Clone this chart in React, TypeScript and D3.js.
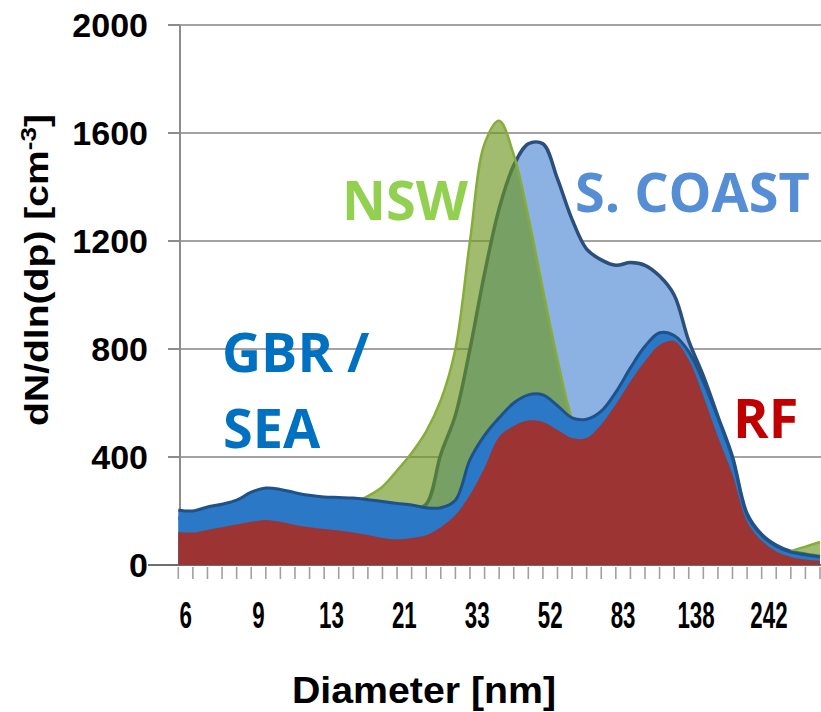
import * as d3 from "d3";

// ---- data ----
const diameterLabels = ["6", "9", "13", "21", "33", "52", "83", "138", "242"];
const yTicks = [0, 400, 800, 1200, 1600, 2000];

const sCoast = [175, 172, 185, 195, 210, 240, 255, 250, 240, 230, 225, 222, 220, 215, 210, 205, 205, 225, 410, 555, 800, 1080, 1320, 1480, 1560, 1560, 1430, 1280, 1170, 1130, 1110, 1120, 1110, 1070, 1000, 830, 700, 550, 400, 190, 113, 73, 50, 40, 32];
const nsw = [90, 95, 100, 110, 120, 130, 140, 150, 160, 175, 190, 210, 230, 255, 290, 350, 415, 495, 610, 800, 1200, 1560, 1645, 1520, 1290, 1020, 760, 540, 420, 350, 300, 260, 230, 200, 180, 160, 140, 120, 100, 80, 55, 40, 52, 68, 85];
const gbrSea = [204, 200, 215, 225, 240, 270, 285, 280, 268, 258, 252, 250, 248, 242, 235, 228, 222, 212, 212, 240, 390, 480, 545, 600, 630, 630, 590, 545, 540, 570, 640, 730, 810, 860, 850, 790, 680, 545, 395, 185, 110, 70, 48, 38, 30];
const rf = [122, 120, 130, 140, 150, 160, 167, 160, 148, 140, 133, 128, 120, 111, 100, 95, 100, 110, 140, 185, 260, 360, 475, 515, 535, 530, 500, 470, 470, 520, 595, 680, 755, 815, 830, 760, 625, 475, 335, 160, 90, 50, 30, 20, 15];

const W = 821;
const H = 712;
const BIN_COUNT = 44;
const LABEL_EVERY = 5;

export default function App() {
  const x = d3.scaleLinear().domain([0, BIN_COUNT]).range([178.3, 820]);
  const y = d3.scaleLinear().domain([0, 2000]).range([565, 25]);
  const curve = d3.curveCatmullRom.alpha(0.5);
  const area = d3
    .area<number>()
    .x((_, i) => x(i))
    .y0(y(0))
    .y1((d) => y(d))
    .curve(curve);
  const line = d3
    .line<number>()
    .x((_, i) => x(i))
    .y((d) => y(d))
    .curve(curve);

  const axisFont = "'Liberation Sans', Arial, sans-serif";
  const labelFont = "'Open Sans', 'Noto Sans', sans-serif";
  const bins = d3.range(BIN_COUNT + 1);

  return (
    <svg
      width={W}
      height={H}
      style={{ position: "absolute", left: 0, top: 0, background: "#fff" }}
    >
      <defs>
        <clipPath id="plot">
          <rect x={178} y={0} width={W - 178} height={565} />
        </clipPath>
      </defs>

      {/* gridlines */}
      {yTicks.map((t) => (
        <g key={t}>
          {t > 0 && (
            <line x1={180} x2={W} y1={y(t)} y2={y(t)} stroke="#a3a3a3" strokeWidth={2} />
          )}
          <line
            x1={t === 0 ? 148 : 168}
            x2={180}
            y1={y(t)}
            y2={y(t)}
            stroke="#8c8c8c"
            strokeWidth={2}
          />
          <text
            x={148}
            y={y(t) + 12}
            textAnchor="end"
            fontFamily={axisFont}
            fontWeight="bold"
            fontSize={34}
            fill="#000"
          >
            {t}
          </text>
        </g>
      ))}
      <line x1={180} x2={180} y1={y(2000)} y2={y(0)} stroke="#8c8c8c" strokeWidth={2} />
      <line x1={148} x2={W} y1={y(0)} y2={y(0)} stroke="#6e6e6e" strokeWidth={2} />

      {/* minor ticks */}
      {bins.map((i) => (
        <line
          key={i}
          x1={x(i)}
          x2={x(i)}
          y1={567}
          y2={579}
          stroke="#a0a0a0"
          strokeWidth={1.6}
        />
      ))}

      {/* areas */}
      <g clipPath="url(#plot)">
        <path d={area(sCoast) || ""} fill="#8cb1e3" />
        <path d={line(sCoast) || ""} fill="none" stroke="#2b4e7c" strokeWidth={3.5} />
        <path d={area(nsw) || ""} fill="rgb(108,150,30)" fillOpacity={0.64} />
        <path d={line(nsw) || ""} fill="none" stroke="#86ad3a" strokeWidth={2.5} />
        <path d={area(gbrSea) || ""} fill="#2a78c6" />
        <path d={line(gbrSea) || ""} fill="none" stroke="#1f5289" strokeWidth={3} />
        <path d={area(rf) || ""} fill="#9b3432" />
      </g>

      {/* x tick labels */}
      {diameterLabels.map((lab, k) => (
        <text
          key={lab}
          x={x(k * LABEL_EVERY + 0.5)}
          y={628}
          textAnchor="middle"
          fontFamily={axisFont}
          fontWeight="bold"
          fontSize={36}
          textLength={lab.length * 12.4}
          lengthAdjust="spacingAndGlyphs"
          fill="#000"
        >
          {lab}
        </text>
      ))}

      {/* axis titles */}
      <text
        x={424}
        y={703}
        textAnchor="middle"
        fontFamily={axisFont}
        fontWeight="bold"
        fontSize={37}
        textLength={264}
        lengthAdjust="spacingAndGlyphs"
        fill="#000"
      >
        Diameter [nm]
      </text>
      <text
        transform="translate(48,270) rotate(-90)"
        textAnchor="middle"
        fontFamily={axisFont}
        fontWeight="bold"
        fontSize={33}
        textLength={312}
        lengthAdjust="spacingAndGlyphs"
        fill="#000"
      >
        dN/dln(dp) [cm
        <tspan fontSize={22} dy={-12}>
          -3
        </tspan>
        <tspan dy={12}>]</tspan>
      </text>

      {/* series labels */}
      <text x={342} y={220} fontFamily={labelFont} fontWeight="bold" fontSize={54} fill="#92d050">
        NSW
      </text>
      <text x={575} y={212} fontFamily={labelFont} fontWeight="bold" fontSize={54} fill="#558ed5">
        S. COAST
      </text>
      <text x={222} y={372} fontFamily={labelFont} fontWeight="bold" fontSize={54} fill="#0070c0">
        GBR /
      </text>
      <text x={223} y={448} fontFamily={labelFont} fontWeight="bold" fontSize={54} fill="#0070c0">
        SEA
      </text>
      <text x={733} y={438} fontFamily={labelFont} fontWeight="bold" fontSize={54} fill="#c00000">
        RF
      </text>
    </svg>
  );
}
